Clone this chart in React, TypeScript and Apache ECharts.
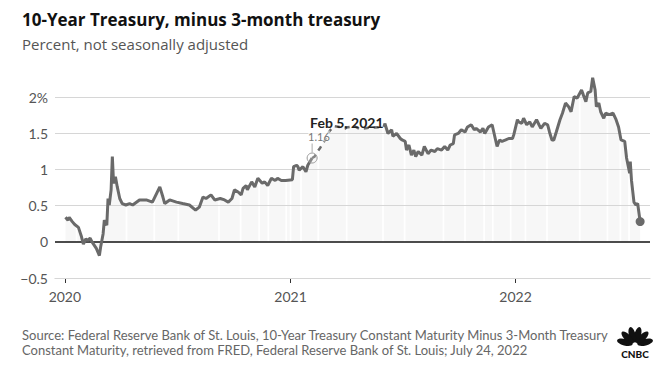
import React, { useEffect, useRef } from "react";
import * as echarts from "echarts";

const dates: string[] = [
  "2020-01-02","2020-01-06","2020-01-08","2020-01-13","2020-01-17","2020-01-23","2020-01-28","2020-01-31",
  "2020-02-04","2020-02-07","2020-02-11","2020-02-14","2020-02-21","2020-02-26","2020-02-28",
  "2020-03-03","2020-03-05","2020-03-09","2020-03-11","2020-03-13","2020-03-16","2020-03-18","2020-03-20",
  "2020-03-23","2020-03-26","2020-03-30","2020-04-03","2020-04-09","2020-04-15","2020-04-20","2020-05-01",
  "2020-05-12","2020-05-22","2020-06-03","2020-06-08","2020-06-11","2020-06-19","2020-06-30","2020-07-10",
  "2020-07-21","2020-07-31","2020-08-06","2020-08-12","2020-08-17","2020-08-25","2020-08-31","2020-09-09",
  "2020-09-16","2020-09-22","2020-09-28","2020-10-02","2020-10-08","2020-10-13","2020-10-16","2020-10-21",
  "2020-10-23","2020-10-30","2020-11-04","2020-11-09","2020-11-16","2020-11-20","2020-11-25","2020-12-01",
  "2020-12-07","2020-12-11","2020-12-17","2020-12-24",
  "2021-01-04","2021-01-06","2021-01-11","2021-01-13","2021-01-15","2021-01-21","2021-01-26","2021-01-29",
  "2021-02-05","2021-02-09","2021-02-12","2021-02-18","2021-02-26","2021-03-05","2021-03-12","2021-03-30",
  "2021-04-15","2021-04-23","2021-05-09","2021-06-01","2021-06-03","2021-06-08","2021-06-14","2021-06-16",
  "2021-06-22","2021-06-28","2021-07-01","2021-07-06","2021-07-08","2021-07-12","2021-07-16","2021-07-20",
  "2021-07-23","2021-07-27","2021-08-02","2021-08-06","2021-08-12","2021-08-17","2021-08-23","2021-08-27",
  "2021-09-03","2021-09-08","2021-09-13","2021-09-17","2021-09-22","2021-09-24","2021-09-30","2021-10-05",
  "2021-10-11","2021-10-15","2021-10-21","2021-10-26","2021-10-29","2021-11-05","2021-11-09","2021-11-12",
  "2021-11-18","2021-11-24","2021-11-29","2021-12-02","2021-12-06","2021-12-10","2021-12-16","2021-12-21",
  "2021-12-27","2021-12-29","2021-12-31",
  "2022-01-04","2022-01-06","2022-01-11","2022-01-14","2022-01-19","2022-01-24","2022-01-28","2022-02-04",
  "2022-02-08","2022-02-11","2022-02-17","2022-02-22","2022-02-25","2022-03-01","2022-03-04","2022-03-08",
  "2022-03-14","2022-03-18","2022-03-23","2022-03-28","2022-04-01","2022-04-06","2022-04-11","2022-04-18",
  "2022-04-21","2022-04-25","2022-04-28","2022-05-03","2022-05-06","2022-05-10","2022-05-12","2022-05-16",
  "2022-05-19","2022-05-24","2022-05-27","2022-06-02","2022-06-08","2022-06-13","2022-06-17","2022-06-21",
  "2022-06-27","2022-06-30","2022-07-05","2022-07-06","2022-07-08","2022-07-12","2022-07-15","2022-07-18",
  "2022-07-22"
];

const spread: number[] = [
  0.34,0.30,0.34,0.28,0.24,0.20,0.07,-0.03,
  0.04,0.02,0.05,0.00,-0.09,-0.19,-0.07,
  0.11,0.30,0.23,0.60,0.51,0.72,1.18,0.81,
  0.90,0.76,0.60,0.53,0.51,0.53,0.51,0.58,
  0.58,0.55,0.76,0.62,0.53,0.58,0.55,0.53,
  0.51,0.44,0.48,0.62,0.60,0.65,0.58,0.60,
  0.58,0.55,0.60,0.72,0.69,0.65,0.74,0.78,
  0.72,0.83,0.76,0.88,0.81,0.83,0.78,0.88,
  0.85,0.88,0.85,0.85,
  0.86,1.04,1.06,1.04,0.99,1.04,0.97,1.06,
  1.16,1.18,1.23,1.30,1.41,1.53,1.60,1.58,
  1.60,1.56,1.58,1.59,1.64,1.50,1.55,1.46,
  1.50,1.43,1.41,1.39,1.27,1.34,1.20,1.27,
  1.18,1.25,1.20,1.32,1.22,1.27,1.25,1.29,
  1.27,1.32,1.27,1.34,1.36,1.48,1.50,1.55,
  1.52,1.59,1.62,1.55,1.57,1.52,1.57,1.50,
  1.59,1.62,1.43,1.32,1.41,1.39,1.41,1.43,
  1.43,1.48,1.55,
  1.69,1.66,1.64,1.71,1.62,1.66,1.59,1.69,
  1.62,1.57,1.64,1.62,1.52,1.41,1.41,1.52,
  1.69,1.78,1.92,1.87,1.80,2.01,1.99,2.10,
  2.03,1.94,2.06,2.08,2.27,2.10,1.87,1.92,
  1.80,1.71,1.78,1.76,1.78,1.69,1.59,1.41,
  1.39,1.16,0.95,1.11,0.85,0.55,0.51,0.53,
  0.28
];

// days without data (bond market holidays) – gaps in the shaded area
const noDataDays: string[] = [
  "2020-01-20","2020-02-17","2020-04-10","2020-05-25","2020-07-03","2020-09-07","2020-10-12",
  "2020-11-11","2020-11-26","2020-12-25","2021-01-01","2021-01-18","2021-02-15","2021-04-02",
  "2021-05-31","2021-07-05","2021-09-06","2021-10-11","2021-11-11","2021-11-25","2021-12-24",
  "2022-01-17","2022-02-21","2022-04-15","2022-05-30","2022-06-20","2022-07-04"
];

const yTicks: number[] = [-0.5, 0, 0.5, 1, 1.5, 2];
const yearTicks: string[] = ["2020-01-01", "2021-01-01", "2022-01-01"];
const xRange: string[] = ["2019-12-16", "2022-08-07"];
const annotDate = "2021-02-05";
const annotValue = 1.16;
const annotLabel = "Feb 5, 2021";
const dashEndDate = "2021-06-03";

const titleText = "10-Year Treasury, minus 3-month treasury";
const subtitleText = "Percent, not seasonally adjusted";
const sourceLines: string[] = [
  "Source: Federal Reserve Bank of St. Louis, 10-Year Treasury Constant Maturity Minus 3-Month Treasury",
  "Constant Maturity, retrieved from FRED, Federal Reserve Bank of St. Louis; July 24, 2022",
];

function ts(s: string): number {
  const [y, m, d] = s.split("-").map(Number);
  return new Date(y, m - 1, d).getTime();
}

const DAY = 86400000;
const FONT = "Lato, 'Open Sans', sans-serif";
const TITLE_FONT = "'Open Sans', Lato, sans-serif";

export default function App() {
  const ref = useRef<HTMLDivElement>(null);
  useEffect(() => {
    if (!ref.current) return;
    const chart = echarts.init(ref.current, undefined, { renderer: "svg" });

    const aT = ts(annotDate);
    const eT = ts(dashEndDate);
    const allData = dates.map((d, i) => [ts(d), spread[i]]);
    const solidData = dates.map((d, i) => {
      const t = ts(d);
      return [t, t > aT && t < eT ? null : spread[i]];
    });
    const dashData = allData.filter((p) => (p[0] as number) >= aT && (p[0] as number) <= eT);
    const last = allData[allData.length - 1];
    const yearTs = yearTicks.map(ts);
    const lastT = last[0] as number;

    const stripes = noDataDays
      .map(ts)
      .filter((t) => t < lastT)
      .map((t) => [
        { xAxis: t - 1.4 * DAY, yAxis: -0.5 },
        { xAxis: t + 1.4 * DAY, yAxis: 2.35 },
      ]);

    const hidden = {
      type: "line",
      data: allData,
      showSymbol: false,
      lineStyle: { width: 0, opacity: 0 },
      silent: true,
    };

    const feathers = [-75, -45, -15, 15, 45, 75].map((deg) => ({
      type: "group",
      x: 635,
      y: 345,
      rotation: (deg * Math.PI) / 180,
      children: [
        {
          type: "ellipse",
          shape: { cx: 0, cy: -10.5, rx: 3.3, ry: 8 },
          style: { fill: "#111" },
        },
      ],
    }));

    chart.setOption({
      animation: false,
      grid: { left: 55, right: 22, top: 72, bottom: 97 },
      xAxis: {
        type: "value",
        min: ts(xRange[0]),
        max: ts(xRange[1]),
        axisLine: { show: true, onZero: false, lineStyle: { color: "#cccccc", width: 1 } },
        axisTick: {
          show: true,
          customValues: yearTs,
          length: 5,
          lineStyle: { color: "#333" },
        },
        axisLabel: {
          customValues: yearTs,
          formatter: (v: number) => String(new Date(v).getFullYear()),
          color: "#555",
          fontSize: 14,
          fontFamily: FONT,
          margin: 11,
        },
        splitLine: { show: false },
      },
      yAxis: {
        type: "value",
        min: -0.5,
        max: 2.35,
        interval: 0.5,
        axisLine: { show: false },
        axisTick: { show: false },
        axisLabel: {
          showMaxLabel: false,
          formatter: (v: number) => {
            if (!yTicks.includes(v)) return "";
            if (v === 2) return "2%";
            return String(v).replace("-", "\u2212");
          },
          color: "#555",
          fontSize: 14,
          fontFamily: FONT,
          margin: 7,
        },
        splitLine: { show: false },
      },
      series: [
        {
          ...hidden,
          areaStyle: { color: "rgba(0,0,0,0.045)" },
          z: 0,
        },
        {
          ...hidden,
          z: 1,
          markArea: {
            silent: true,
            z: 1,
            itemStyle: { color: "#ffffff", opacity: 1, borderWidth: 0 },
            label: { show: false },
            data: stripes,
          },
        },
        {
          ...hidden,
          z: 2,
          markLine: {
            silent: true,
            z: 2,
            symbol: "none",
            label: { show: false },
            lineStyle: { color: "#d6d6d6", width: 1, type: "solid" },
            data: yTicks
              .filter((v) => v !== 0)
              .map((v) => ({ yAxis: v })),
          },
        },
        {
          ...hidden,
          z: 3,
          markLine: {
            silent: true,
            z: 3,
            symbol: "none",
            label: { show: false },
            lineStyle: { color: "#111", width: 1.5, type: "solid" },
            data: [{ yAxis: 0 }],
          },
        },
        {
          type: "line",
          data: solidData,
          showSymbol: false,
          connectNulls: false,
          lineStyle: { color: "#6a6a6a", width: 3 },
          z: 10,
          silent: true,
          markPoint: {
            silent: true,
            z: 11,
            data: [
              {
                coord: last,
                symbol: "circle",
                symbolSize: 9,
                itemStyle: { color: "#6a6a6a" },
                label: { show: false },
              },
            ],
          },
        },
        {
          type: "line",
          data: dashData,
          showSymbol: false,
          lineStyle: { color: "#6a6a6a", width: 2.5, type: [5, 5] },
          z: 10,
          silent: true,
          markPoint: {
            silent: true,
            z: 11,
            data: [
              {
                coord: [aT, annotValue],
                symbol: "circle",
                symbolSize: 10,
                itemStyle: { color: "rgba(255,255,255,0.2)", borderColor: "#999", borderWidth: 1 },
                label: { show: false },
              },
              {
                coord: [aT, annotValue],
                symbol: "rect",
                symbolSize: [1, 9],
                symbolOffset: [0, -10],
                itemStyle: { color: "#aaa" },
                label: { show: false },
              },
              {
                coord: [aT, annotValue],
                symbol: "circle",
                symbolSize: 0.1,
                label: {
                  show: true,
                  position: "inside",
                  formatter: String(annotValue),
                  align: "left",
                  verticalAlign: "middle",
                  offset: [-4, -22],
                  color: "#777",
                  fontSize: 11,
                  fontFamily: FONT,
                  backgroundColor: "rgba(255,255,255,0.6)",
                },
              },
              {
                coord: [aT, annotValue],
                symbol: "circle",
                symbolSize: 0.1,
                label: {
                  show: true,
                  position: "inside",
                  formatter: annotLabel,
                  align: "left",
                  verticalAlign: "middle",
                  offset: [-2, -36],
                  color: "#222",
                  fontSize: 14,
                  fontWeight: "bold",
                  fontFamily: FONT,
                },
              },
            ],
          },
        },
      ],
      graphic: [
        {
          type: "text",
          left: 22,
          top: 11,
          style: { text: titleText, fill: "#111", font: `bold 17px ${TITLE_FONT}` },
        },
        {
          type: "text",
          left: 22,
          top: 36,
          style: { text: subtitleText, fill: "#555", font: `15px ${TITLE_FONT}` },
        },
        {
          type: "text",
          left: 22,
          top: 328,
          style: { text: sourceLines[0], fill: "#666", font: `13px ${FONT}` },
        },
        {
          type: "text",
          left: 22,
          top: 343,
          style: { text: sourceLines[1], fill: "#666", font: `13px ${FONT}` },
        },
        ...feathers,
        {
          type: "text",
          x: 635,
          y: 354,
          style: {
            text: "CNBC",
            fill: "#111",
            font: `900 10px ${FONT}`,
            textAlign: "center",
            textVerticalAlign: "middle",
          },
        },
      ],
    });
    return () => chart.dispose();
  }, []);
  return (
    <div
      ref={ref}
      style={{ position: "fixed", left: 0, top: 0, width: 672, height: 375, background: "#fff" }}
    />
  );
}
